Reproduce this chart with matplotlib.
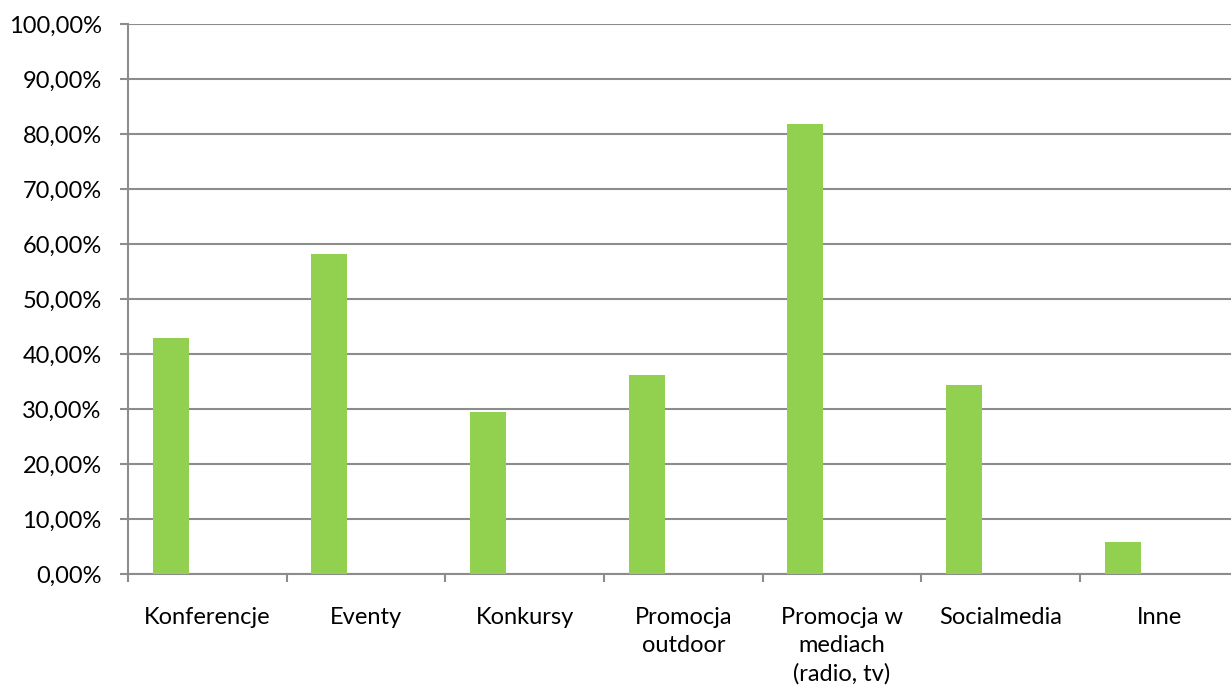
import numpy as np
import matplotlib
matplotlib.use('Agg')
from matplotlib import pyplot as plt
from matplotlib.ticker import FuncFormatter

categories = ['Konferencje', 'Eventy', 'Konkursy', 'Promocja\noutdoor',
              'Promocja w\nmediach\n(radio, tv)', 'Socialmedia', 'Inne']
values = [42.9, 58.1, 29.5, 36.2, 81.9, 34.4, 5.8]

plt.rcParams['font.family'] = ['Lato', 'DejaVu Sans']

fig = plt.figure(figsize=(12.31, 6.93), dpi=100)
ax = fig.add_axes([128 / 1231, 1 - 574 / 693, 1110.5 / 1231, 550 / 693])

x = np.arange(len(categories))
ax.bar(x - 0.23, values, width=0.227, color='#92D050', zorder=3)

ax.set_xlim(-0.5, len(categories) - 0.5)
ax.set_ylim(0, 100)
ax.set_yticks(np.arange(0, 101, 10))
ax.yaxis.set_major_formatter(FuncFormatter(lambda v, p: f'{v:.2f}%'.replace('.', ',')))
ax.grid(axis='y', color='#8c8c8c', linewidth=1.5, zorder=0)

# category boundaries get the ticks, centres get the labels
ax.set_xticks(np.arange(-0.5, len(categories), 1.0))
ax.set_xticklabels([])
ax.set_xticks(x, minor=True)
ax.set_xticklabels(categories, minor=True, fontsize=17, linespacing=1.4)
ax.tick_params(axis='x', which='minor', length=0, pad=24)
ax.tick_params(axis='x', which='major', length=6, width=1.5, color='#8c8c8c', direction='out')
ax.tick_params(axis='y', length=6, width=1.5, color='#8c8c8c', labelsize=17, pad=13)

for side in ['top', 'right']:
    ax.spines[side].set_visible(False)
for side in ['left', 'bottom']:
    ax.spines[side].set_color('#8c8c8c')
    ax.spines[side].set_linewidth(1.5)

plt.savefig('out.png', dpi=100)
